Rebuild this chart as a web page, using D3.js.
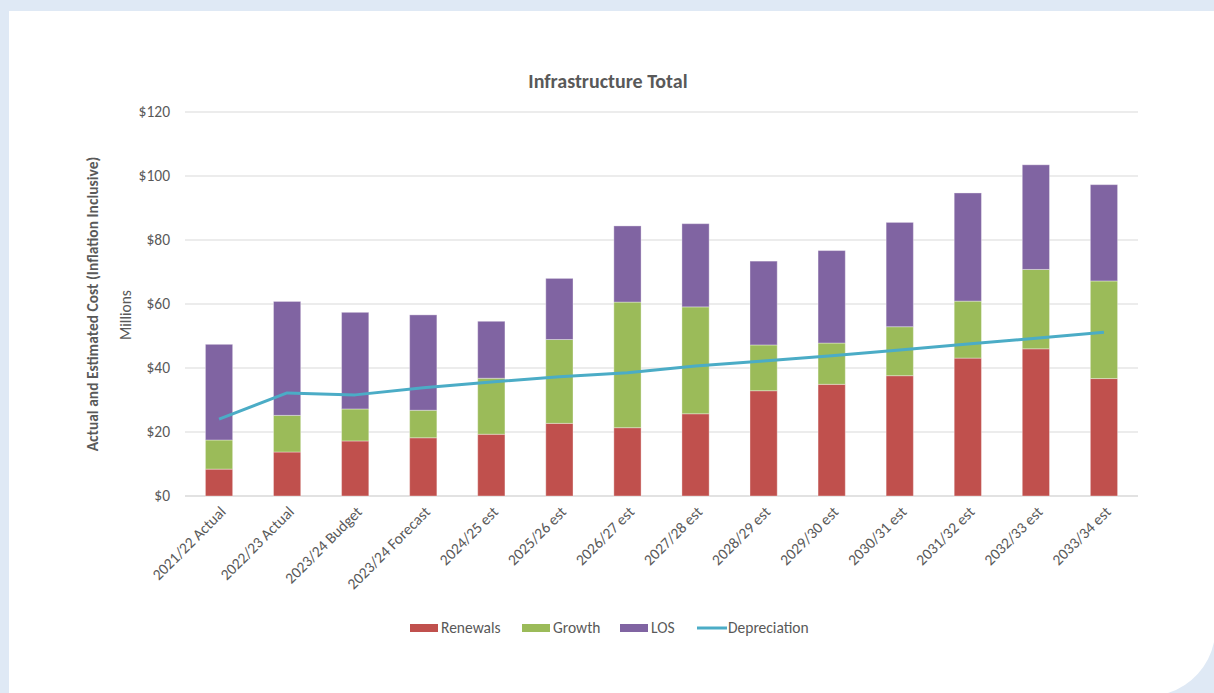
<!DOCTYPE html>
<html><head><meta charset="utf-8">
<script src="https://cdn.jsdelivr.net/npm/d3@7"></script>
<style>
html,body{margin:0;padding:0;background:#dfe9f5;}
svg{display:block;font-family:Carlito,Lato,"Open Sans",sans-serif;}
</style></head>
<body><svg id="c" width="1214" height="693"></svg>
<script>
const categories = ["2021/22 Actual","2022/23 Actual","2023/24 Budget","2023/24 Forecast","2024/25 est","2025/26 est","2026/27 est","2027/28 est","2028/29 est","2029/30 est","2030/31 est","2031/32 est","2032/33 est","2033/34 est"];
const renewals = [8.4,13.75,17.2,18.2,19.3,22.7,21.35,25.7,32.9,34.9,37.6,43.1,46.0,36.7];
const growth = [9.1,11.45,10.0,8.6,17.5,26.2,39.25,33.4,14.3,12.9,15.3,17.8,24.8,30.5];
const los = [29.9,35.6,30.2,29.8,17.8,19.1,23.8,26.0,26.2,28.9,32.6,33.8,32.7,30.1];
const depreciation = [24.0,32.2,31.6,33.8,35.6,37.3,38.5,40.6,42.2,43.8,45.6,47.5,49.3,51.2];
const yTicks = [0,20,40,60,80,100,120];
const seriesNames = ["Renewals","Growth","LOS"];
const colors = {Renewals:"#C0504D",Growth:"#9BBB59",LOS:"#8064A2",Depreciation:"#4BACC6"};
const FS = 15.5;

const svg = d3.select("#c");
svg.append("path")
  .attr("d","M9,11 H1214 V642 A68,68 0 0 1 1168,693 H9 Z")
  .attr("fill","#ffffff");

const x = d3.scaleBand().domain(categories).range([185,1138]).paddingInner(0.6).paddingOuter(0.3);
const y = d3.scaleLinear().domain([0,120]).range([496,112]);

svg.append("g").selectAll("line").data(yTicks).join("line")
  .attr("x1",185).attr("x2",1138)
  .attr("y1",d=>y(d)).attr("y2",d=>y(d))
  .attr("stroke","#d9d9d9").attr("stroke-width",d=>d===0?1.5:1);

const yAxis = d3.axisLeft(y).tickValues(yTicks).tickSize(0).tickPadding(0).tickFormat(d=>"$"+d);
const ga = svg.append("g").attr("transform","translate(170,0)").call(yAxis);
ga.select(".domain").remove();
ga.attr("font-size",null).attr("font-family",null);
ga.selectAll("text").attr("font-size",FS).attr("fill","#595959");

const rows = categories.map((c,i)=>({cat:c,Renewals:renewals[i],Growth:growth[i],LOS:los[i]}));
const stack = d3.stack().keys(seriesNames)(rows);
svg.append("g").selectAll("g").data(stack).join("g")
  .attr("fill",d=>colors[d.key])
  .selectAll("rect").data(d=>d).join("rect")
  .attr("x",d=>x(d.data.cat)).attr("width",x.bandwidth())
  .attr("y",d=>y(d[1])).attr("height",d=>y(d[0])-y(d[1]))
  .attr("stroke","#ffffff").attr("stroke-opacity",0.35).attr("stroke-width",1);

const line = d3.line().x((d,i)=>x(categories[i])+x.bandwidth()/2).y(d=>y(d));
svg.append("path").datum(depreciation).attr("d",line)
  .attr("fill","none").attr("stroke",colors.Depreciation).attr("stroke-width",3).attr("stroke-linejoin","round");

const xAxis = d3.axisBottom(x).tickSize(0).tickPadding(0);
const gx = svg.append("g").attr("transform","translate(0,503)").call(xAxis);
gx.select(".domain").remove();
gx.attr("font-size",null).attr("font-family",null);
gx.selectAll("text").attr("font-size",FS).attr("fill","#595959")
  .attr("text-anchor","end").attr("dy","0.35em")
  .attr("transform","translate(4,6) rotate(-45)");

svg.append("text").attr("x",608).attr("y",88).attr("text-anchor","middle")
  .attr("font-size",20).attr("font-weight","bold").attr("fill","#595959").text("Infrastructure Total");

svg.append("text").attr("transform","translate(98,304) rotate(-90)").attr("text-anchor","middle")
  .attr("font-size",FS).attr("font-weight","bold").attr("fill","#595959")
  .text("Actual and Estimated Cost (Inflation Inclusive)");
svg.append("text").attr("transform","translate(131,315) rotate(-90)").attr("text-anchor","middle")
  .attr("font-size",FS).attr("fill","#595959").text("Millions");

const legend = [{n:"Renewals",x:410,t:"rect"},{n:"Growth",x:522,t:"rect"},{n:"LOS",x:620,t:"rect"},{n:"Depreciation",x:697,t:"line"}];
const lg = svg.append("g");
legend.forEach(l=>{
  if(l.t==="rect"){
    lg.append("rect").attr("x",l.x).attr("y",624).attr("width",28).attr("height",8).attr("fill",colors[l.n]);
  } else {
    lg.append("line").attr("x1",l.x).attr("x2",l.x+30).attr("y1",628).attr("y2",628).attr("stroke",colors[l.n]).attr("stroke-width",3);
  }
  lg.append("text").attr("x",l.x+31).attr("y",628).attr("dy","0.35em").attr("font-size",FS).attr("fill","#595959").text(l.n);
});
</script></body></html>
